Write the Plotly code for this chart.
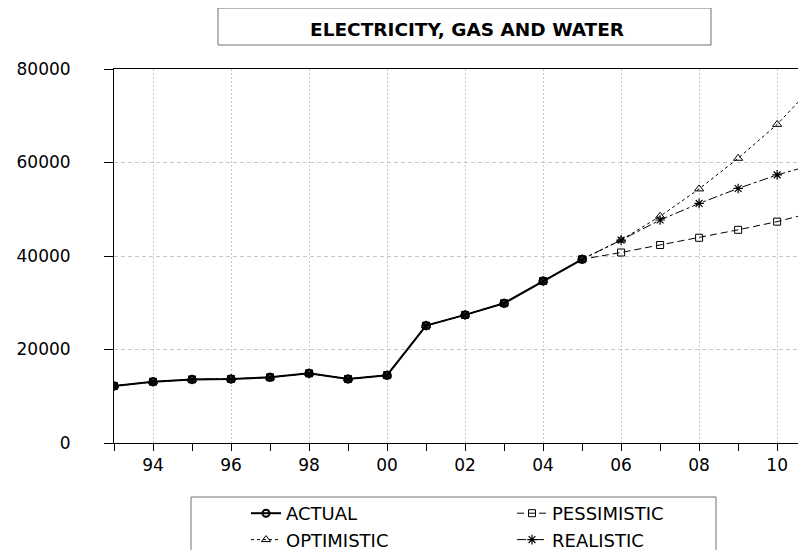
import plotly.graph_objects as go

# ---- data ----
hist_years = [1993, 1994, 1995, 1996, 1997, 1998, 1999, 2000, 2001, 2002, 2003, 2004, 2005]
actual = [12200, 13100, 13600, 13700, 14050, 14900, 13700, 14500, 25100, 27400, 29900, 34650, 39300]

fc_years = [2006, 2007, 2008, 2009, 2010, 2011]
pessimistic = [40750, 42350, 43900, 45600, 47350, 49500]
optimistic = [43400, 48500, 54350, 60900, 68150, 77000]
realistic = [43400, 47700, 51250, 54450, 57350, 59700]

xtick_vals = [1994, 1996, 1998, 2000, 2002, 2004, 2006, 2008, 2010]
xtick_text = ["94", "96", "98", "00", "02", "04", "06", "08", "10"]
ytick_vals = [0, 20000, 40000, 60000, 80000]
ytick_text = ["0", "20000", "40000", "60000", "80000"]

title_text = "ELECTRICITY, GAS AND WATER"

FONT = "DejaVu Sans"

fig = go.Figure()

all_years = hist_years + fc_years

fig.add_trace(go.Scatter(
    x=hist_years, y=actual, name="ACTUAL", mode="lines+markers",
    line=dict(color="black", width=2),
    marker=dict(symbol="circle-open", size=7, color="black", line=dict(width=2)),
))
fig.add_trace(go.Scatter(
    x=all_years, y=actual + pessimistic, name="PESSIMISTIC", mode="lines+markers",
    line=dict(color="black", width=1, dash="7px,4px"),
    marker=dict(symbol="square-open", size=7, color="black", line=dict(width=1)),
))
fig.add_trace(go.Scatter(
    x=all_years, y=actual + optimistic, name="OPTIMISTIC", mode="lines+markers",
    line=dict(color="black", width=1, dash="3px,3px"),
    marker=dict(symbol="triangle-up-open", size=8, color="black", line=dict(width=1)),
))
fig.add_trace(go.Scatter(
    x=all_years, y=actual + realistic, name="REALISTIC", mode="lines+markers",
    line=dict(color="black", width=1, dash="9px,3px,3px,3px"),
    marker=dict(symbol="asterisk-open", size=8, color="black", line=dict(width=1.2)),
))

# page has an 8px body margin; work in screen coordinates and subtract it
OFF = 8
W, H = 806 - OFF, 550 - OFF
L, T, B = 114 - OFF, 69 - OFF, 443 - OFF
pw = W - L
ph = B - T

def px(x):
    return (x - OFF - L) / pw

def py(y):
    return (B - (y - OFF)) / ph

fig.update_layout(
    width=W, height=H,
    margin=dict(l=L, r=0, t=T, b=H - B, pad=0, autoexpand=False),
    paper_bgcolor="white", plot_bgcolor="white",
    font=dict(family=FONT, size=16, color="black"),
    showlegend=True,
    legend=dict(
        orientation="h", xref="paper", yref="paper",
        x=px(246), y=py(495), xanchor="left", yanchor="top",
        entrywidth=221, entrywidthmode="pixels",
        font=dict(family=FONT, size=18, color="black"),
        bgcolor="rgba(0,0,0,0)", borderwidth=0,
        traceorder="normal", itemwidth=30,
    ),
    shapes=[
        dict(type="rect", xref="paper", yref="paper",
             x0=px(218), x1=px(711), y0=py(45), y1=py(8),
             line=dict(color="#707070", width=1), fillcolor="white", layer="above"),
        dict(type="rect", xref="paper", yref="paper",
             x0=px(191), x1=px(716), y0=py(497), y1=py(560),
             line=dict(color="#707070", width=1), layer="below"),
    ],
    annotations=[
        dict(text="<b>" + title_text + "</b>", xref="paper", yref="paper",
             x=px(467), y=py(29), xanchor="center", yanchor="middle",
             showarrow=False, font=dict(family=FONT, size=18.5, color="black")),
    ],
)

fig.update_xaxes(
    range=[1993, 2010.74], automargin=False,
    tickmode="array", tickvals=xtick_vals, ticktext=xtick_text,
    ticks="outside", ticklen=7, tickwidth=1, tickcolor="black",
    showline=True, linecolor="black", linewidth=1, mirror=True,
    showgrid=True, gridcolor="#c8c8c8", gridwidth=1, griddash="2px,2px",
    zeroline=False,
    minor=dict(dtick=1, tick0=1993, ticks="outside", ticklen=7, tickcolor="black", showgrid=False),
    tickfont=dict(family=FONT, size=17),
)
fig.update_yaxes(
    range=[0, 80000], automargin=False,
    tickmode="array", tickvals=ytick_vals, ticktext=ytick_text,
    ticks="outside", ticklen=9, tickwidth=1, tickcolor="black",
    showline=True, linecolor="black", linewidth=1, mirror=True,
    showgrid=True, gridcolor="#c8c8c8", gridwidth=1, griddash="4px,3px",
    zeroline=False,
    ticklabelstandoff=30,
    tickfont=dict(family=FONT, size=17),
)

fig.write_html("out.html", post_script="document.body.style.overflow='hidden';")
